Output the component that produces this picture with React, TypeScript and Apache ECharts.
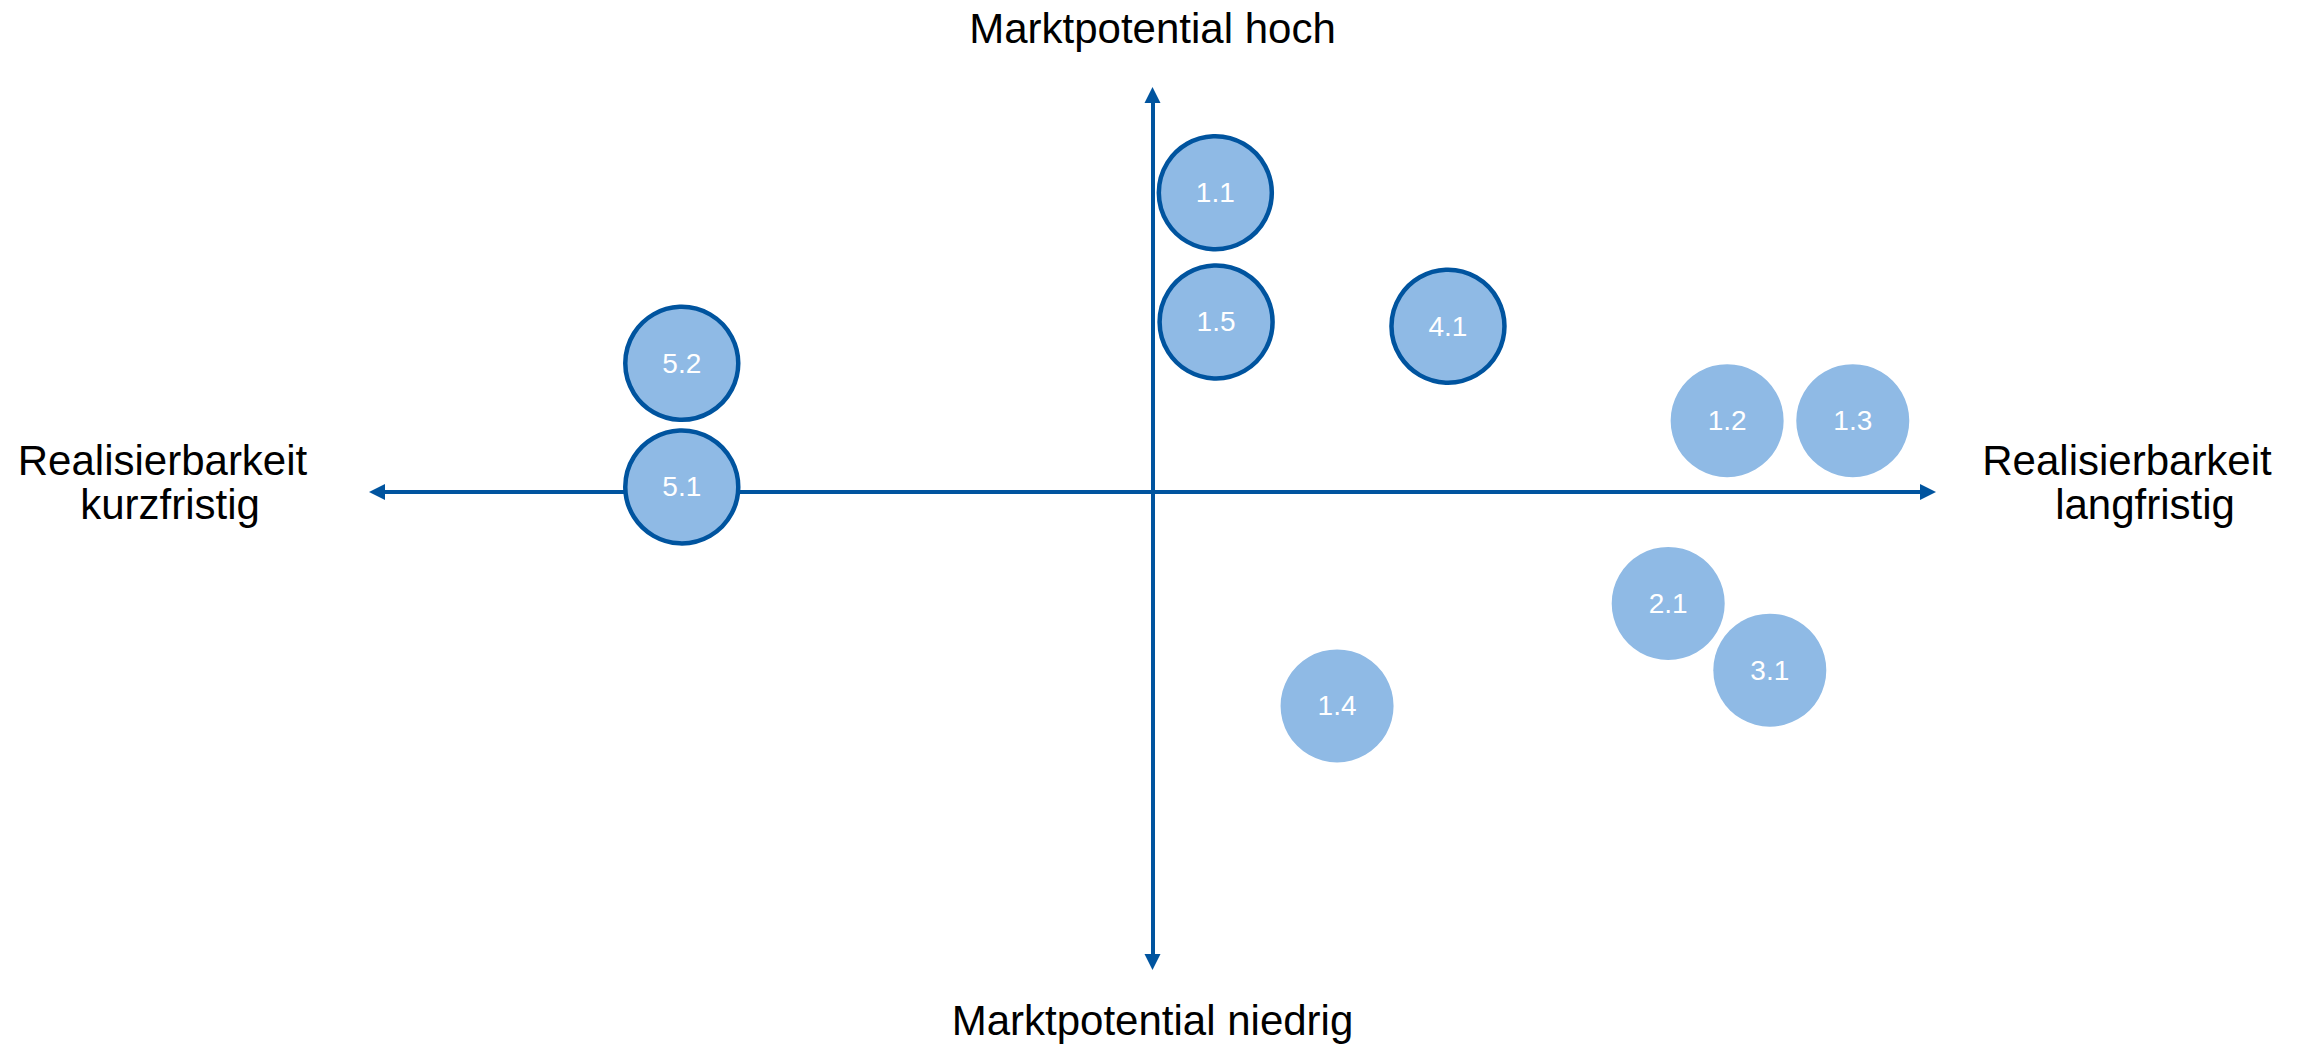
import React, { useEffect, useRef } from "react";
import * as echarts from "echarts";

// Portfolio items: name, Realisierbarkeit (x: - kurzfristig, + langfristig), Marktpotential (y: - niedrig, + hoch)
const highlightedNames = ["1.1", "1.5", "4.1", "5.2", "5.1"];
const highlightedX = [0.81, 0.82, 3.81, -6.07, -6.07];
const highlightedY = [6.37, 3.62, 3.53, 2.74, 0.11];

const otherNames = ["1.2", "1.3", "2.1", "3.1", "1.4"];
const otherX = [7.41, 9.03, 6.65, 7.96, 2.38];
const otherY = [1.52, 1.52, -2.37, -3.79, -4.55];

const xRange = [-10, 10];
const yRange = [-10, 8.45];

const axisTop = "Marktpotential hoch";
const axisBottom = "Marktpotential niedrig";
const axisLeft = ["Realisierbarkeit", "kurzfristig"];
const axisRight = ["Realisierbarkeit", "langfristig"];

const BLUE = "#00549F";
const FILL = "#8FBAE5";
const FONT = "'Liberation Sans', Arial, sans-serif";

const toData = (names: string[], xs: number[], ys: number[]) =>
  names.map((n, i) => ({ name: n, value: [xs[i], ys[i]] }));

export default function App() {
  const ref = useRef<HTMLDivElement>(null);
  useEffect(() => {
    document.body.style.margin = "0";
    if (!ref.current) return;
    const chart = echarts.init(ref.current, undefined, { renderer: "svg" });
    const axisCommon = {
      type: "value" as const,
      axisLine: {
        show: true,
        onZero: true,
        symbol: ["triangle", "triangle"],
        symbolSize: [16, 16],
        lineStyle: { color: BLUE, width: 4 },
      },
      axisTick: { show: false },
      axisLabel: { show: false },
      splitLine: { show: false },
    };
    const labelCfg = {
      show: true,
      position: "inside" as const,
      formatter: "{b}",
      color: "#FFFFFF",
      fontSize: 28,
      fontFamily: FONT,
    };
    const textStyle = (x: number, y: number, text: string) => ({
      type: "text",
      x,
      y,
      silent: true,
      style: {
        text,
        fill: "#000000",
        font: `42px ${FONT}`,
        fontSize: 42,
        fontFamily: FONT,
        textAlign: "center",
        textVerticalAlign: "middle",
        verticalAlign: "middle",
      },
    });
    chart.setOption({
      animation: false,
      backgroundColor: "#FFFFFF",
      grid: { left: 377, right: 380, top: 95, bottom: 88, containLabel: false },
      xAxis: { ...axisCommon, min: xRange[0], max: xRange[1] },
      yAxis: { ...axisCommon, min: yRange[0], max: yRange[1] },
      graphic: [
        textStyle(1152.5, 28, axisTop),
        textStyle(1152.5, 1020, axisBottom),
        textStyle(162.5, 460, axisLeft[0]),
        textStyle(170, 504, axisLeft[1]),
        textStyle(2127, 460, axisRight[0]),
        textStyle(2145, 504, axisRight[1]),
      ],
      series: [
        {
          type: "scatter",
          name: "bordered",
          symbol: "circle",
          symbolSize: 113,
          itemStyle: { color: FILL, borderColor: BLUE, borderWidth: 4.5, opacity: 1 },
          label: labelCfg,
          data: toData(highlightedNames, highlightedX, highlightedY),
          z: 3,
        },
        {
          type: "scatter",
          name: "plain",
          symbol: "circle",
          symbolSize: 113,
          itemStyle: { color: FILL, opacity: 1 },
          label: labelCfg,
          data: toData(otherNames, otherX, otherY),
          z: 3,
        },
      ],
    });
    return () => chart.dispose();
  }, []);
  return (
    <div
      ref={ref}
      style={{ position: "absolute", left: 0, top: 0, width: 2308, height: 1050 }}
    />
  );
}
